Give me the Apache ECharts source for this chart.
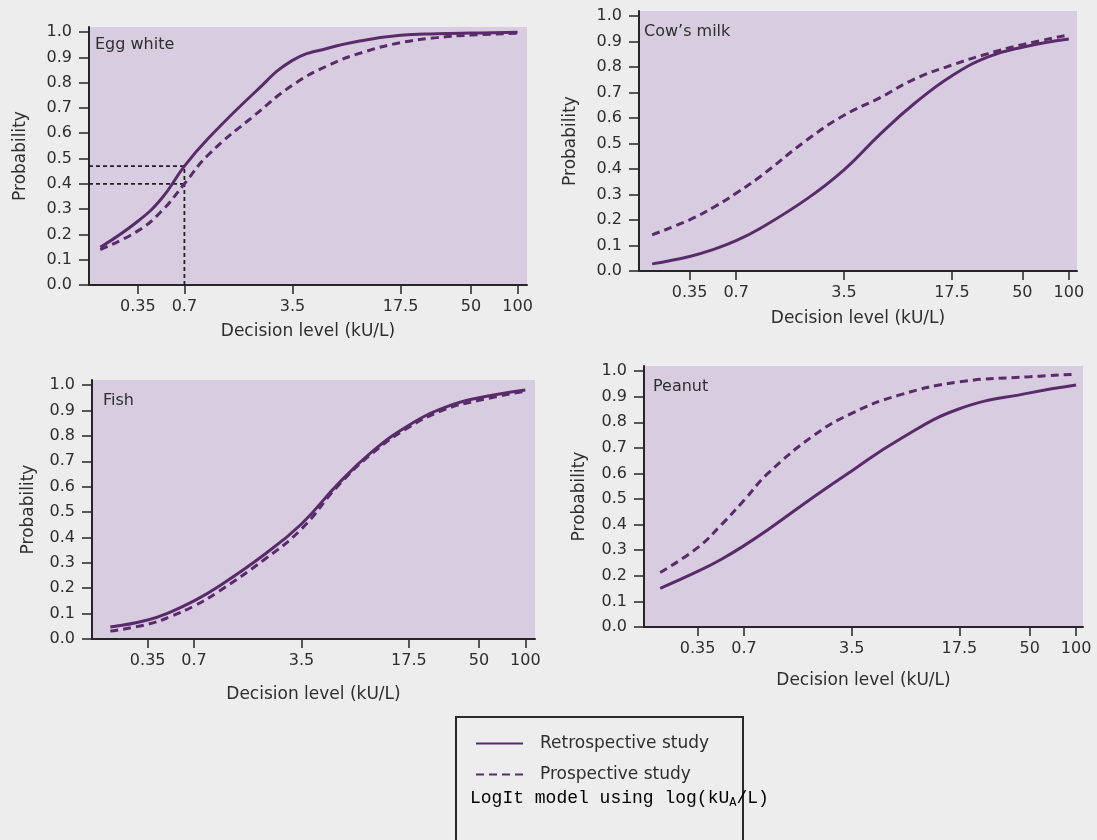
<!DOCTYPE html>
<html>
<head>
<meta charset="utf-8">
<script src="https://cdn.jsdelivr.net/npm/echarts@6/dist/echarts.min.js"></script>
<style>
html,body{margin:0;padding:0;background:#ededed;}
#c{width:1097px;height:840px;}
</style>
</head>
<body>
<div id="c"></div>
<script>
// ---- data ----
const decisionLevels = [0.2, 0.35, 0.5, 0.7, 1, 2, 3.5, 6, 10, 17.5, 30, 50, 100];
const peanutLevels   = [0.2, 0.35, 0.5, 0.7, 1, 2, 3.5, 7, 17.5, 50, 100];
const tickLevels = [0.35, 0.7, 3.5, 17.5, 50, 100];
const tickLabels = ['0.35', '0.7', '3.5', '17.5', '50', '100'];
const probTicks = [0, 0.1, 0.2, 0.3, 0.4, 0.5, 0.6, 0.7, 0.8, 0.9, 1.0];
const panelNames = ['Egg white', 'Cow\u2019s milk', 'Fish', 'Peanut'];
const seriesNames = ['Retrospective study', 'Prospective study'];

const eggRetro   = [0.149, 0.252, 0.343, 0.470, 0.580, 0.762, 0.888, 0.937, 0.967, 0.987, 0.993, 0.996, 0.999];
const eggPro     = [0.140, 0.214, 0.293, 0.400, 0.515, 0.672, 0.790, 0.869, 0.920, 0.958, 0.978, 0.988, 0.995];
const milkRetro  = [0.028, 0.057, 0.085, 0.119, 0.167, 0.282, 0.397, 0.537, 0.657, 0.766, 0.840, 0.878, 0.910];
const milkPro    = [0.142, 0.201, 0.250, 0.305, 0.370, 0.513, 0.611, 0.680, 0.753, 0.808, 0.853, 0.888, 0.926];
const fishRetro  = [0.047, 0.075, 0.108, 0.150, 0.205, 0.332, 0.453, 0.608, 0.736, 0.842, 0.912, 0.950, 0.981];
const fishPro    = [0.031, 0.058, 0.090, 0.130, 0.185, 0.312, 0.433, 0.601, 0.729, 0.834, 0.904, 0.940, 0.976];
const peanutRetro= [0.151, 0.217, 0.265, 0.318, 0.380, 0.510, 0.610, 0.730, 0.853, 0.915, 0.946];
const peanutPro  = [0.213, 0.310, 0.400, 0.495, 0.600, 0.750, 0.835, 0.905, 0.958, 0.978, 0.988];

const guideLevel = 0.7;
const guideProbs = [0.47, 0.40];

// ---- layout / style ----
const FONT = 'DejaVu Sans';
const INK = '#2e2e2e';
const CURVE = '#5a2b6b';
const panels = [
  {grid:{left:89, top:27, width:438, height:258}, xr:[-0.772, 2.061], yGap:60, xGap:38, title:[95,37], lv:decisionLevels, retro:eggRetro, pro:eggPro},
  {grid:{left:639, top:11, width:438, height:260}, xr:[-0.784, 2.053], yGap:60, xGap:39, title:[644,24], lv:decisionLevels, retro:milkRetro, pro:milkPro},
  {grid:{left:92, top:380, width:443, height:259}, xr:[-0.818, 2.063], yGap:55, xGap:47, title:[103,393], lv:decisionLevels, retro:fishRetro, pro:fishPro},
  {grid:{left:644, top:366, width:439, height:261}, xr:[-0.804, 2.045], yGap:56, xGap:45, title:[653,379], lv:peanutLevels, retro:peanutRetro, pro:peanutPro}
];

const logTicks = tickLevels.map(v => Math.log10(v));
function xLabel(v) {
  const i = logTicks.findIndex(t => Math.abs(t - v) < 1e-6);
  return i >= 0 ? tickLabels[i] : '';
}
const toPts = (lv, vals) => lv.map((d, j) => [Math.log10(d), vals[j]]);

const grid = [], xAxis = [], yAxis = [], series = [], title = [];
panels.forEach((p, i) => {
  grid.push(Object.assign({show:true, backgroundColor:'#d8cde0', borderWidth:0}, p.grid));
  xAxis.push({
    type:'value', gridIndex:i, min:p.xr[0], max:p.xr[1],
    name:'Decision level (kU/L)', nameLocation:'middle', nameGap:p.xGap,
    nameTextStyle:{fontFamily:FONT, fontSize:17, color:INK},
    axisLine:{show:true, onZero:false, lineStyle:{color:'#262626', width:2}},
    axisTick:{show:true, customValues:logTicks, length:9, lineStyle:{color:'#262626', width:1.5}},
    axisLabel:{show:true, customValues:logTicks, formatter:xLabel, margin:14, fontFamily:FONT, fontSize:16, color:INK},
    splitLine:{show:false}
  });
  yAxis.push({
    type:'value', gridIndex:i, min:0, max:1.02,
    name:'Probability', nameLocation:'middle', nameGap:p.yGap, nameRotate:90,
    nameTextStyle:{fontFamily:FONT, fontSize:17, color:INK},
    axisLine:{show:true, onZero:false, lineStyle:{color:'#262626', width:2}},
    axisTick:{show:true, customValues:probTicks, length:10, lineStyle:{color:'#262626', width:1.5}},
    axisLabel:{show:true, customValues:probTicks, formatter:v => v.toFixed(1), margin:17, fontFamily:FONT, fontSize:16, color:INK},
    splitLine:{show:false}
  });
  title.push({text:panelNames[i], left:p.title[0], top:p.title[1], padding:0,
    textStyle:{fontFamily:FONT, fontSize:16, fontWeight:'normal', color:INK}});
  series.push({
    type:'line', name:seriesNames[0], xAxisIndex:i, yAxisIndex:i, data:toPts(p.lv, p.retro),
    smooth:0.45, symbol:'none', lineStyle:{color:CURVE, width:3, type:'solid'}, itemStyle:{color:CURVE}, z:3
  });
  series.push({
    type:'line', name:seriesNames[1], xAxisIndex:i, yAxisIndex:i, data:toPts(p.lv, p.pro),
    smooth:0.45, symbol:'none', lineStyle:{color:CURVE, width:3, type:[8,5]}, itemStyle:{color:CURVE}, z:3
  });
});

// guide lines (egg white panel)
const gx = Math.log10(guideLevel);
guideProbs.forEach(g => {
  series.push({type:'line', xAxisIndex:0, yAxisIndex:0, data:[[panels[0].xr[0], g], [gx, g]],
    symbol:'none', silent:true, lineStyle:{color:'#222', width:1.8, type:[4,3]}, z:2});
});
series.push({type:'line', xAxisIndex:0, yAxisIndex:0, data:[[gx, 0], [gx, guideProbs[0]]],
  symbol:'none', silent:true, lineStyle:{color:'#222', width:1.8, type:[4,3]}, z:2});

const option = {
  backgroundColor:'#ededed',
  animation:false,
  title:title,
  grid:grid, xAxis:xAxis, yAxis:yAxis, series:series,
  legend:{
    data:seriesNames, orient:'vertical', left:475, top:735, padding:0,
    itemWidth:47, itemHeight:14, itemGap:14,
    itemStyle:{opacity:0},
    textStyle:{fontFamily:FONT, fontSize:17, color:INK, padding:[0,0,0,12]}
  },
  graphic:[
    {type:'rect', shape:{x:456, y:717, width:287, height:150}, style:{fill:'none', stroke:'#2a2a2a', lineWidth:2}, silent:true},
    {type:'text', x:470, y:798, style:{
      text:'{a|LogIt model using log(kU}{s|A}{a|/L)}',
      verticalAlign:'middle',
      rich:{
        a:{fontFamily:'Liberation Mono', fontSize:18, color:INK, lineHeight:22},
        s:{fontFamily:'Liberation Mono', fontSize:12, color:INK, lineHeight:22, verticalAlign:'bottom'}
      }
    }, silent:true}
  ]
};
const chart = echarts.init(document.getElementById('c'), null, {renderer:'canvas'});
chart.setOption(option);
</script>
</body>
</html>
